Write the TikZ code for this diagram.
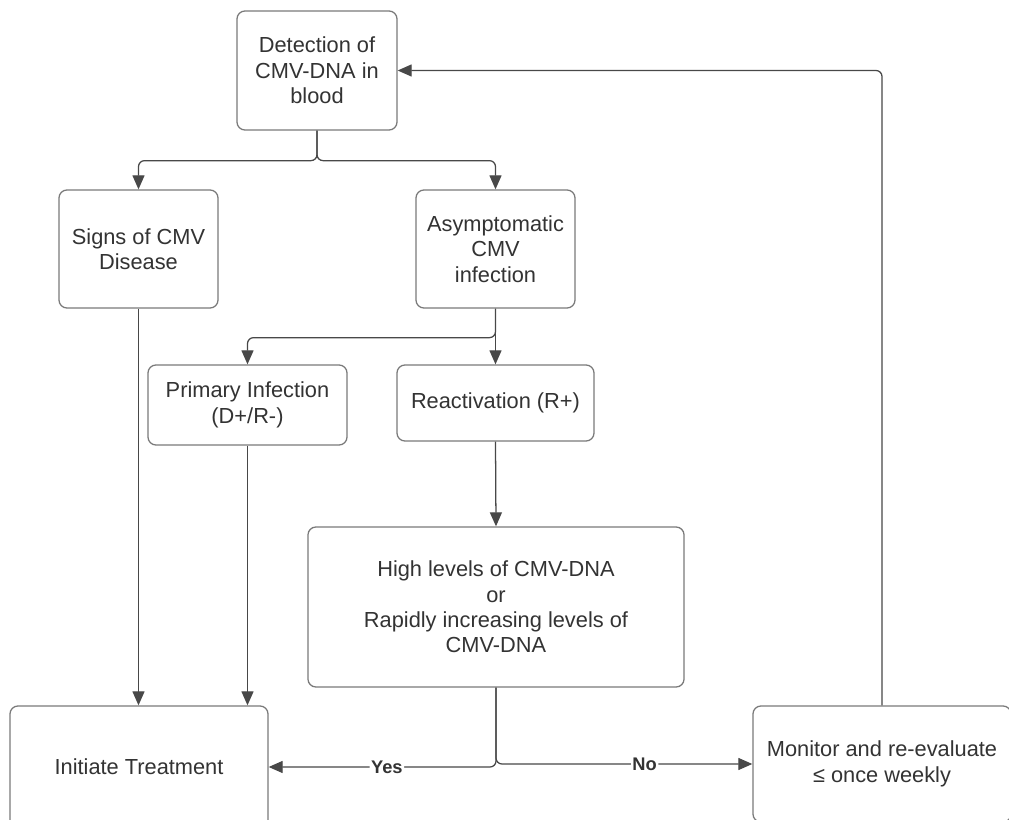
\documentclass[tikz,border=0pt]{standalone}
\usepackage{fontspec}
\setmainfont{Liberation Sans}
\usetikzlibrary{arrows.meta}
\definecolor{boxGray}{HTML}{7A7A7A}
\definecolor{lineGray}{HTML}{484848}
\definecolor{textGray}{HTML}{333333}

\begin{document}
\begin{tikzpicture}[x=0.025cm,y=-0.025cm,
  box/.style={draw=boxGray,line width=0.9pt,rounded corners=0.2cm,align=center,
    text=textGray,font=\fontsize{15.5}{18}\selectfont,inner sep=0pt},
  flow/.style={draw=lineGray,line width=0.9pt,rounded corners=0.15cm,
    -{Triangle[length=0.35cm,width=0.3cm]}},
  lbl/.style={fill=white,text=textGray,font=\bfseries\fontsize{13}{15}\selectfont,inner sep=1pt}]

%frame
\clip (0,0) rectangle (1009,820);
\fill[white] (0,0) rectangle (1009,820);

%boxes
\node[box,minimum width=4cm,minimum height=2.975cm] (det) at (317,70.5) {Detection of\\CMV-DNA in\\blood};
\node[box,minimum width=3.975cm,minimum height=2.95cm] (signs) at (138.5,249) {Signs of CMV\\Disease};
\node[box,minimum width=3.975cm,minimum height=2.95cm] (asym) at (495.5,249) {Asymptomatic\\CMV\\infection};
\node[box,minimum width=4.975cm,minimum height=2cm] (prim) at (247.5,405) {Primary Infection\\(D+/R-)};
\node[box,minimum width=4.925cm,minimum height=1.9cm] (reac) at (495.5,403) {Reactivation (R+)};
\node[box,minimum width=9.4cm,minimum height=4cm] (high) at (496,607) {High levels of CMV-DNA\\or\\Rapidly increasing levels of\\CMV-DNA};
\node[box,minimum width=6.45cm,minimum height=3.05cm] (init) at (139,767) {Initiate Treatment};
\node[box,minimum width=6.45cm,minimum height=2.9cm] (mon) at (882,764) {Monitor and re-evaluate\\≤ once weekly};

%arrows
\draw[flow] (det.south) -- ++(0,30) -| (signs.north);
\draw[flow] (det.south) -- ++(0,30) -| (asym.north);
\draw[flow] (asym.south) -- ++(0,29) -| (prim.north);
\draw[flow] (asym.south) -- (reac.north);
\draw[flow] (reac.south) -- (high.north);
\draw[flow] (signs.south) -- (signs.south |- init.north);
\draw[flow] (prim.south) -- (prim.south |- init.north);
\draw[flow] (high.south) |- node[lbl,pos=0.74] {Yes} (init.east);
\draw[flow] (high.south) |- node[lbl,pos=0.79] {No} (mon.west);
\draw[flow] (mon.north) |- (det.east);
\end{tikzpicture}
\end{document}
